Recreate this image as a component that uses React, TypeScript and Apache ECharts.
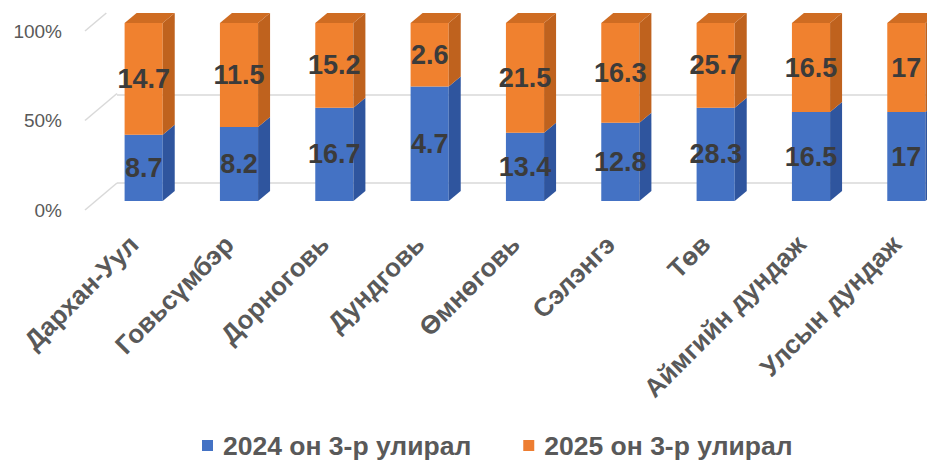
import React, { useEffect, useRef } from "react";
import * as echarts from "echarts";

const categories = [
  "Дархан-Уул",
  "Говьсүмбэр",
  "Дорноговь",
  "Дундговь",
  "Өмнөговь",
  "Сэлэнгэ",
  "Төв",
  "Аймгийн дундаж",
  "Улсын дундаж",
];
const series2024Name = "2024 он 3-р улирал";
const series2025Name = "2025 он 3-р улирал";
const values2024 = [8.7, 8.2, 16.7, 4.7, 13.4, 12.8, 28.3, 16.5, 17];
const values2025 = [14.7, 11.5, 15.2, 2.6, 21.5, 16.3, 25.7, 16.5, 17];
const yTicks = [0, 50, 100];

const FONT = "'Liberation Sans', Arial, sans-serif";

export default function App() {
  const ref = useRef<HTMLDivElement>(null);

  useEffect(() => {
    document.body.style.margin = "0";
    if (!ref.current) return;
    const chart = echarts.init(ref.current, null, { renderer: "svg" });

    const pct2024 = values2024.map((v, i) => (v / (v + values2025[i])) * 100);
    const data2024 = categories.map((_, i) => [i, 0, pct2024[i], values2024[i]]);
    const data2025 = categories.map((_, i) => [i, pct2024[i], 100, values2025[i]]);

    const DX = 12;
    const DY = 10;

    const makeRender =
      (front: string, side: string, topC: string, isTop: boolean) =>
      (params: any, api: any) => {
        const idx = api.value(0);
        const y0 = api.value(1);
        const y1 = api.value(2);
        const raw = api.value(3);
        const b = api.coord([idx, y0]);
        const t = api.coord([idx, y1]);
        const w = api.size([1, 0])[0] * 0.4;
        const xL = b[0] - w / 2;
        const xR = b[0] + w / 2;
        const yB = b[1];
        const yT = t[1];
        const children: any[] = [
          {
            type: "polygon",
            shape: { points: [[xL, yB], [xR, yB], [xR, yT], [xL, yT]] },
            style: { fill: front },
          },
          {
            type: "polygon",
            shape: {
              points: [[xR, yB], [xR + DX, yB - DY], [xR + DX, yT - DY], [xR, yT]],
            },
            style: { fill: side },
          },
        ];
        if (isTop) {
          children.push({
            type: "polygon",
            shape: {
              points: [[xL, yT], [xL + DX, yT - DY], [xR + DX, yT - DY], [xR, yT]],
            },
            style: { fill: topC },
          });
        }
        children.push({
          type: "text",
          x: b[0],
          y: (yB + yT) / 2,
          style: {
            text: String(raw),
            align: "center",
            verticalAlign: "middle",
            fontSize: 27,
            fontWeight: "bold",
            fontFamily: FONT,
            fill: "#3b3b3b",
          },
        });
        return { type: "group", children };
      };

    const option: any = {
      animation: false,
      backgroundColor: "#ffffff",
      grid: [
        { left: 96, width: 858, top: 23, bottom: 259 },
        { left: 117, right: 0, top: 6, bottom: 277 },
        { left: 88, width: 100, top: 31, bottom: 250 },
      ],
      legend: {
        data: [series2024Name, series2025Name],
        left: 202,
        top: 432,
        padding: 0,
        icon: "rect",
        itemWidth: 11,
        itemHeight: 11,
        itemGap: 52,
        textStyle: {
          fontSize: 26.5,
          fontWeight: "bold",
          color: "#595959",
          fontFamily: FONT,
          padding: [0, 0, 0, 5],
        },
      },
      xAxis: [
        {
          gridIndex: 0,
          type: "category",
          data: categories,
          boundaryGap: true,
          axisLine: { show: false },
          axisTick: { show: false },
          axisLabel: {
            interval: 0,
            rotate: 45,
            margin: 29,
            padding: [0, 14, 0, 0],
            fontSize: 26,
            fontWeight: "bold",
            color: "#595959",
            fontFamily: FONT,
          },
        },
        { gridIndex: 1, type: "value", min: 0, max: 1, show: false },
        { gridIndex: 2, type: "value", min: 0, max: 1, show: false },
      ],
      yAxis: [
        { gridIndex: 0, type: "value", min: 0, max: 100, show: false },
        {
          gridIndex: 1,
          type: "value",
          min: 0,
          max: 100,
          interval: 50,
          axisLine: { show: false },
          axisTick: { show: false },
          axisLabel: { show: false },
          splitLine: {
            show: true,
            showMaxLine: false,
            lineStyle: { color: "#d9d9d9", width: 1.5 },
          },
        },
        {
          gridIndex: 2,
          type: "value",
          min: 0,
          max: 100,
          interval: 50,
          axisLine: { show: false },
          axisTick: { show: false },
          splitLine: { show: false },
          axisLabel: {
            formatter: "{value}%",
            margin: 26,
            fontSize: 19,
            color: "#595959",
            fontFamily: FONT,
          },
        },
      ],
      series: [
        {
          name: "floor",
          type: "custom",
          xAxisIndex: 2,
          yAxisIndex: 2,
          clip: false,
          silent: true,
          data: yTicks.map((v) => [0, v]),
          renderItem: (params: any, api: any) => {
            const p = api.coord([0, api.value(1)]);
            const sx = p[0] - 3;
            const sy = p[1];
            let ex = sx + 32;
            let ey = sy - 27;
            if (ey < 13) {
              const f = (sy - 13) / 27;
              ex = sx + 32 * f;
              ey = 13;
            }
            return {
              type: "line",
              shape: { x1: sx, y1: sy, x2: ex, y2: ey },
              style: { stroke: "#d9d9d9", lineWidth: 1.5 },
            };
          },
        },
        {
          name: series2024Name,
          type: "custom",
          xAxisIndex: 0,
          yAxisIndex: 0,
          clip: false,
          itemStyle: { color: "#4472C4" },
          encode: { x: 0, y: [1, 2] },
          data: data2024,
          renderItem: makeRender("#4472C4", "#2F559E", "#3A64B4", false),
        },
        {
          name: series2025Name,
          type: "custom",
          xAxisIndex: 0,
          yAxisIndex: 0,
          clip: false,
          itemStyle: { color: "#ED7D31" },
          encode: { x: 0, y: [1, 2] },
          data: data2025,
          renderItem: makeRender("#F0812F", "#BF621E", "#CF6C22", true),
        },
      ],
    };

    chart.setOption(option);
    return () => chart.dispose();
  }, []);

  return (
    <div style={{ width: 927, height: 460, overflow: "hidden", position: "relative" }}>
      <div ref={ref} style={{ width: 970, height: 460 }} />
    </div>
  );
}
